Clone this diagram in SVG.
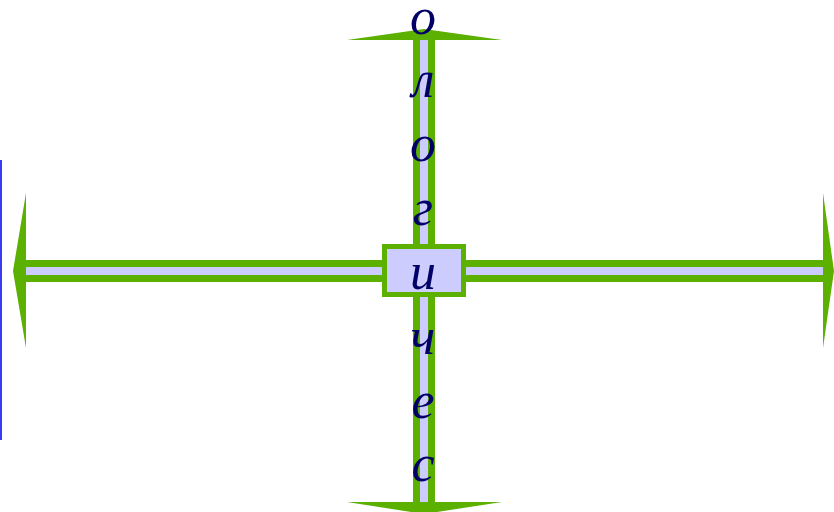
<svg xmlns="http://www.w3.org/2000/svg" width="834" height="512" viewBox="0 0 834 512">
<style>
.outer{stroke:#5cb000;stroke-width:22;fill:none}
.inner{stroke:#ccccff;stroke-width:8;fill:none}
.head{fill:#5cb000;stroke:none}
.lbl{font-family:"Liberation Serif",serif;font-style:italic;font-size:52px;fill:#000066;text-anchor:middle}
</style>
<rect width="834" height="512" fill="#ffffff"/>
<line x1="1" y1="160" x2="1" y2="440" stroke="#3b3bf0" stroke-width="2"/>
<g id="connectors">
<line class="outer" x1="20" y1="271" x2="826" y2="271"/>
<line class="outer" x1="424" y1="40" x2="424" y2="502"/>
<line class="inner" x1="20" y1="271" x2="828" y2="271"/>
<line class="inner" x1="424" y1="40" x2="424" y2="512"/>
<polygon class="head" points="26,193 13,271 26,348 26,271"/>
<polygon class="head" points="823,193 834,271 823,348"/>
<polygon class="head" points="347,40 424,29 502,40"/>
<polygon class="head" points="347,502 424,514 502,502"/>
</g>
<g id="center">
<rect x="384.5" y="246.5" width="79" height="48" fill="#ccccff" stroke="#5cb000" stroke-width="5"/>
</g>
<g id="labels">
<text class="lbl" x="423" y="34">о</text>
<text class="lbl" x="423" y="97">л</text>
<text class="lbl" x="423" y="161">о</text>
<text class="lbl" x="423" y="225">г</text>
<text class="lbl" x="423" y="289">и</text>
<text class="lbl" x="423" y="354">ч</text>
<text class="lbl" x="423" y="418">е</text>
<text class="lbl" x="423" y="481">с</text>
</g>
</svg>
